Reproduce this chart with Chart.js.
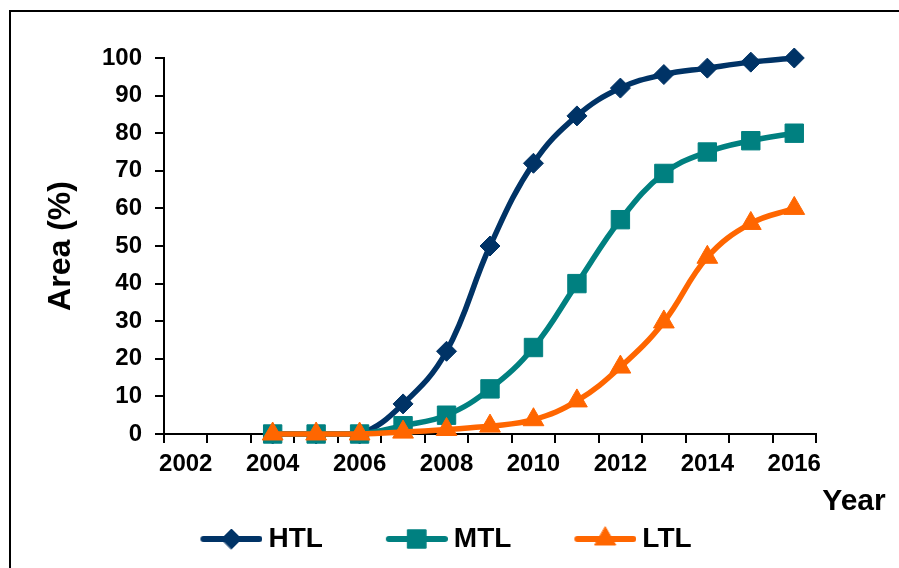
<!DOCTYPE html>
<html lang="en">
<head>
  <meta charset="UTF-8" />
  <title>Area (%) by Year - HTL / MTL / LTL</title>
  <style>
    * { box-sizing: border-box; margin: 0; padding: 0; }
    html, body { width: 899px; height: 568px; overflow: hidden; background: #fff; }
    /* outer chart frame, runs off the right and bottom edges */
    .frame { position: absolute; left: 9px; top: 10px; width: 1000px; height: 1000px; border: 2px solid #000; }
    #chart { position: absolute; left: 0; top: 0; }
  </style>
</head>
<body>
  <div class="frame"></div>
  <canvas id="chart" width="899" height="568"></canvas>

  <script src="https://cdn.jsdelivr.net/npm/chart.js"></script>
  <script>
    // --- data ---
    const years = ['2002', '2003', '2004', '2005', '2006', '2007', '2008', '2009',
                   '2010', '2011', '2012', '2013', '2014', '2015', '2016'];
    const htl = [null, null, 0, 0, 0, 8, 22, 50, 72, 84.6, 92, 95.6, 97.3, 98.9, 100];
    const mtl = [null, null, 0, 0, 0, 2.2, 5, 12, 23, 40, 57, 69.3, 75, 78, 80];
    const ltl = [null, null, 0, 0, 0, 0.5, 1.2, 2.1, 3.8, 8.8, 17.8, 29.8, 47, 56, 60];
    const yTicks = [0, 10, 20, 30, 40, 50, 60, 70, 80, 90, 100];

    const NAVY = '#003366', TEAL = '#008080', ORANGE = '#FF6600';
    const FONT = '"Liberation Sans", Arial, sans-serif';

    Chart.defaults.font.family = FONT;
    Chart.defaults.font.weight = 'bold';
    Chart.defaults.color = '#000';

    // legend symbol: short line with the marker on it
    function legendIcon(color, style, radius) {
      const c = document.createElement('canvas');
      c.width = 113; c.height = 32;
      const ctx = c.getContext('2d');
      ctx.strokeStyle = color;
      ctx.fillStyle = color;
      ctx.lineWidth = 6;
      ctx.lineCap = 'round';
      ctx.beginPath();
      ctx.moveTo(54, 16);
      ctx.lineTo(110, 16);
      ctx.stroke();
      ctx.lineWidth = 1;
      Chart.helpers.drawPoint(ctx, { pointStyle: style, radius: radius, borderWidth: 1, rotation: 0 }, 82, 16);
      return c;
    }

    const series = [
      { label: 'HTL', data: htl, color: NAVY, style: 'rectRot', radius: 10, order: 3 },
      { label: 'MTL', data: mtl, color: TEAL, style: 'rect', radius: 13, order: 2 },
      { label: 'LTL', data: ltl, color: ORANGE, style: 'triangle', radius: 12, order: 1 }
    ];
    const icons = series.map(s => legendIcon(s.color, s.style, s.radius));

    const datasets = series.map(s => ({
      label: s.label,
      data: s.data,
      borderColor: s.color,
      backgroundColor: s.color,
      borderWidth: 5.5,
      tension: 0.4,
      pointStyle: s.style,
      pointRadius: s.radius,
      pointBorderWidth: 1,
      pointBackgroundColor: s.color,
      pointBorderColor: s.color,
      order: s.order,
      clip: false
    }));

    // "Year" sits below and to the right of the x axis
    const yearLabel = {
      id: 'yearLabel',
      afterDraw(chart) {
        const { ctx, chartArea } = chart;
        ctx.save();
        ctx.font = 'bold 30px ' + FONT;
        ctx.fillStyle = '#000';
        ctx.textAlign = 'center';
        ctx.textBaseline = 'middle';
        ctx.fillText('Year', chartArea.right + 38, chartArea.bottom + 68);
        ctx.restore();
      }
    };

    const defaultLabels = Chart.defaults.plugins.legend.labels.generateLabels;

    new Chart(document.getElementById('chart'), {
      type: 'line',
      data: { labels: years, datasets: datasets },
      plugins: [yearLabel],
      options: {
        responsive: false,
        animation: false,
        devicePixelRatio: 1,
        layout: { padding: { left: 0, top: 58, right: 50, bottom: 5 } },
        scales: {
          x: {
            type: 'category',
            offset: true,
            grid: { display: true, offset: true, drawOnChartArea: false, color: '#000', lineWidth: 2, tickLength: 9 },
            border: { color: '#000', width: 2 },
            ticks: {
              autoSkip: false,
              maxRotation: 0,
              padding: 7,
              font: { size: 24, weight: 'bold' },
              callback: function (value, index) {
                const y = years[index];
                return Number(y) % 2 === 0 ? y : '';
              }
            },
            afterFit: s => { s.height = 71; }
          },
          y: {
            min: 0,
            max: 100,
            afterBuildTicks: s => { s.ticks = yTicks.map(v => ({ value: v })); },
            grid: { display: true, drawOnChartArea: false, color: '#000', lineWidth: 2, tickLength: 9 },
            border: { color: '#000', width: 2 },
            ticks: { padding: 13, font: { size: 24, weight: 'bold' } },
            title: {
              display: true,
              text: 'Area (%)',
              font: { size: 32, weight: 'bold' },
              padding: { top: 42, bottom: 0 }
            },
            afterFit: s => { s.width = 164; }
          },
          yRight: {
            type: 'linear',
            position: 'right',
            display: true,
            grid: { display: false, drawTicks: false },
            border: { display: false },
            ticks: { display: false },
            afterFit: s => { s.width = 33; }
          }
        },
        plugins: {
          tooltip: { enabled: false },
          legend: {
            position: 'bottom',
            labels: {
              usePointStyle: true,
              pointStyleWidth: 97,
              padding: 20,
              color: '#000',
              font: { size: 28, weight: 'bold' },
              sort: (a, b) => a.datasetIndex - b.datasetIndex,
              generateLabels: chart => defaultLabels(chart).map(item => {
                item.pointStyle = icons[item.datasetIndex];
                return item;
              })
            }
          }
        }
      }
    });
  </script>
</body>
</html>
